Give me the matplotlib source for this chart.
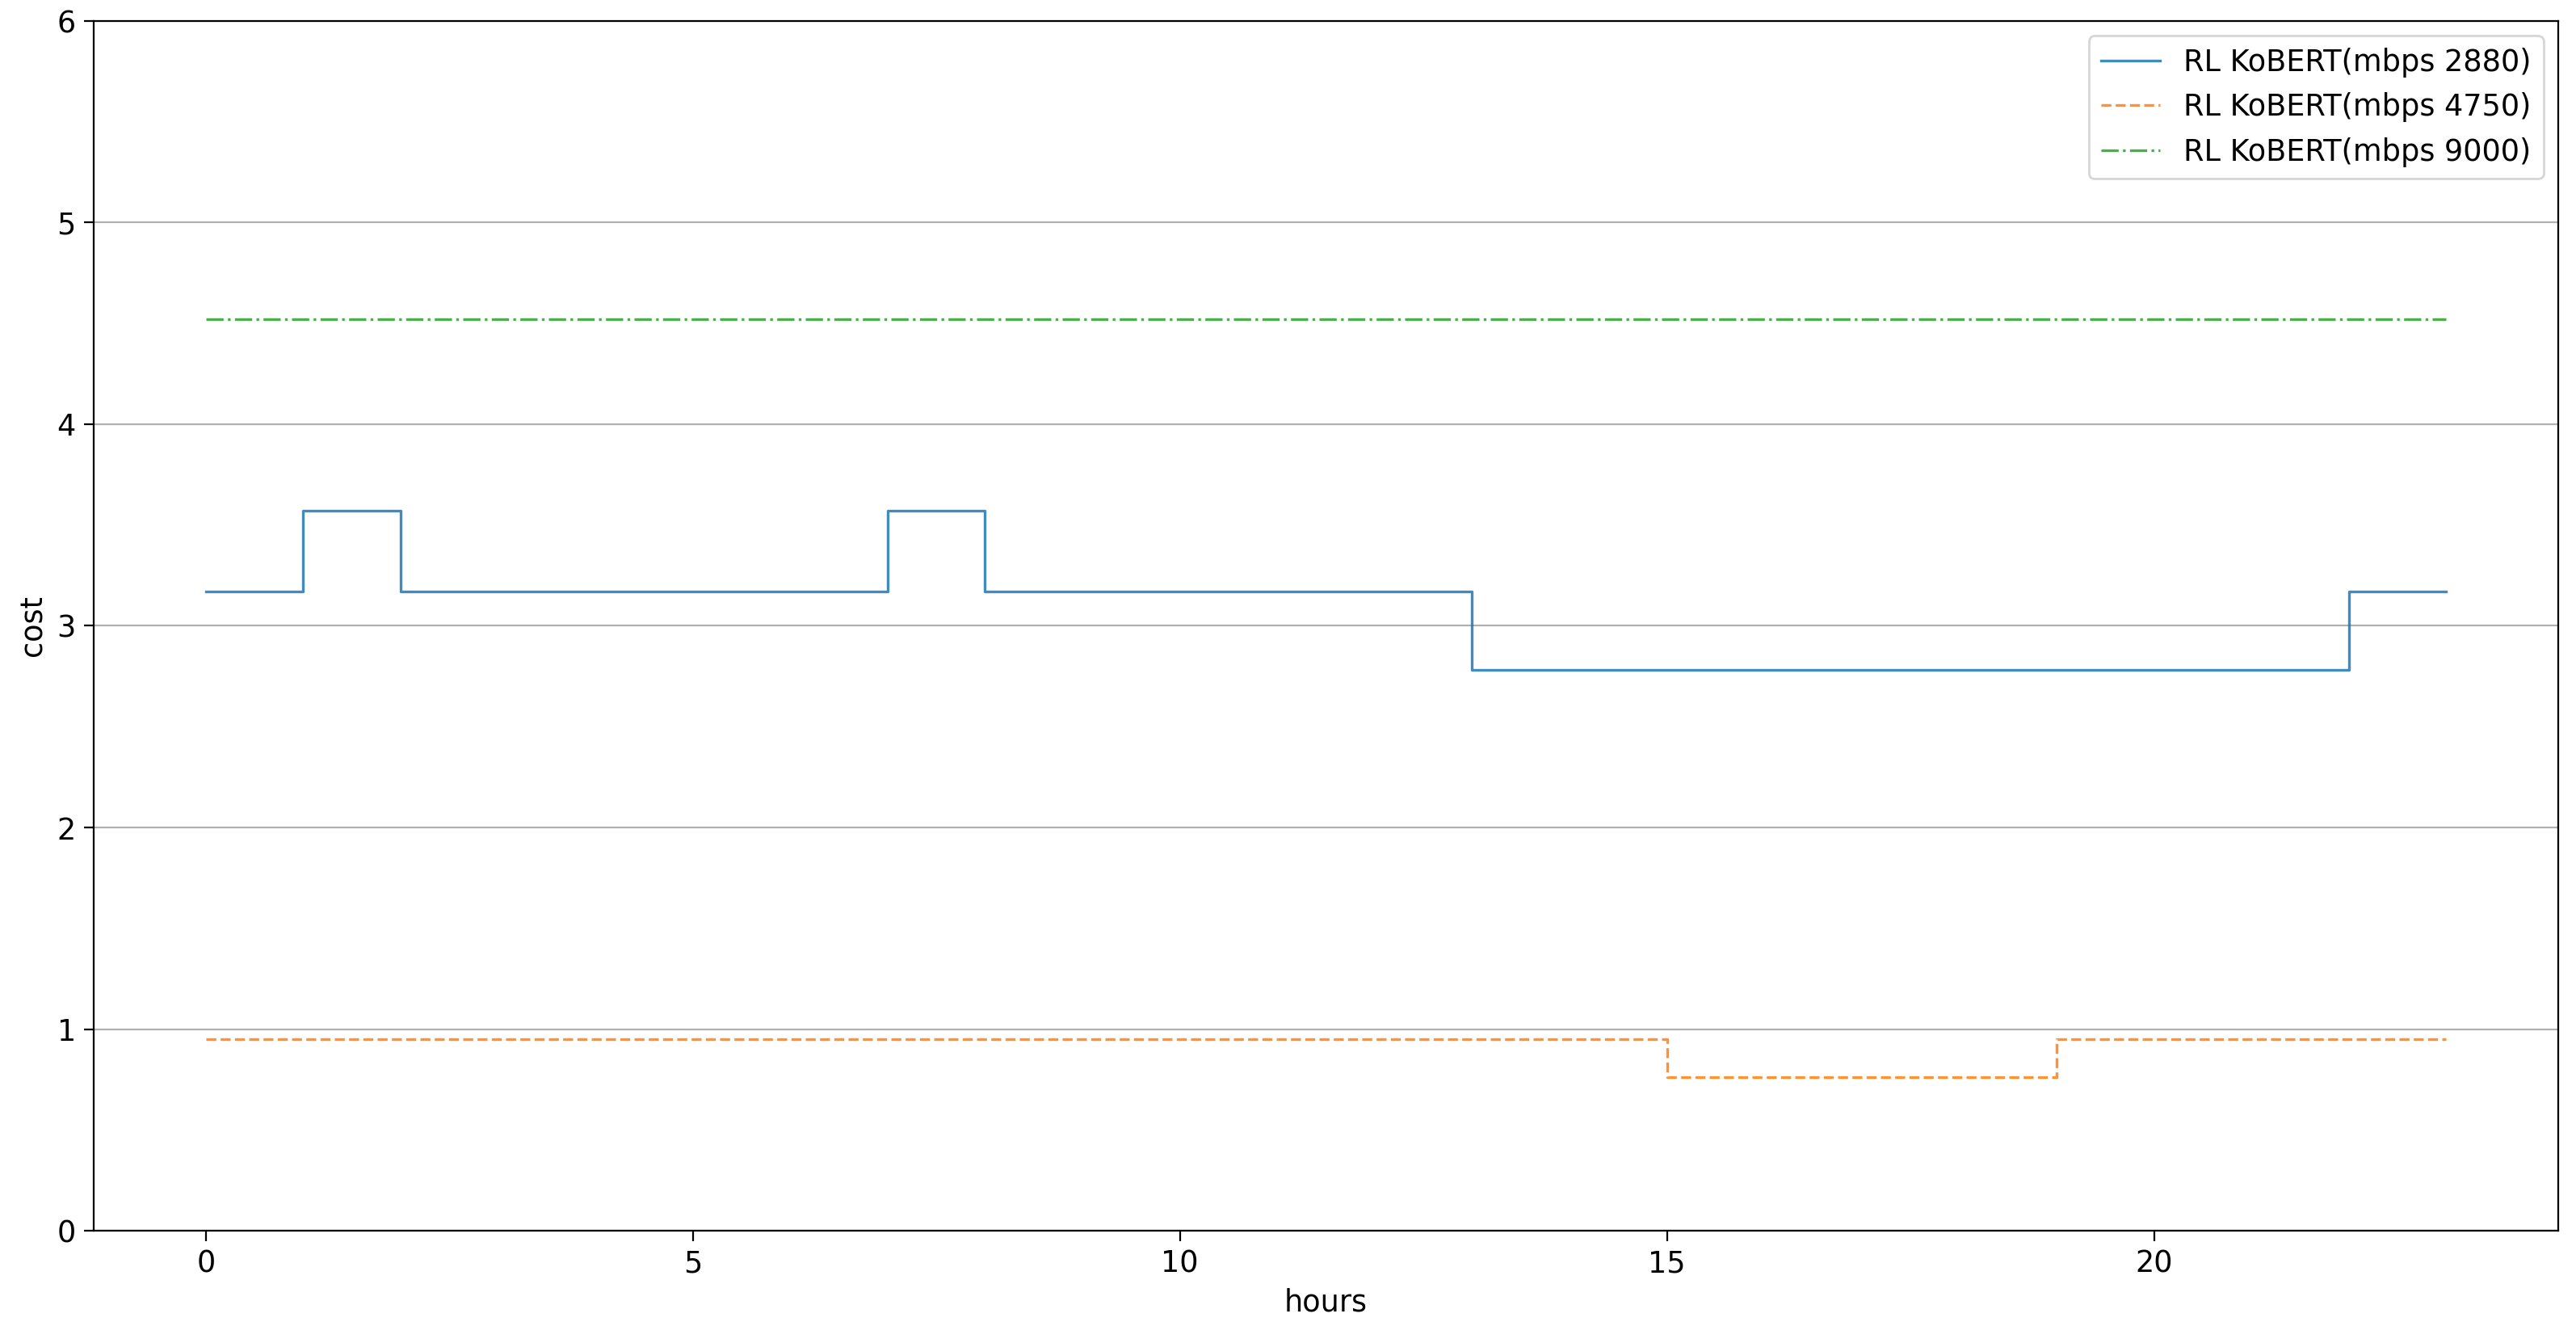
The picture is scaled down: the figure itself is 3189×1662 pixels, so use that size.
import matplotlib
matplotlib.use("Agg")
import matplotlib.pyplot as plt
import numpy as np

# hourly cost for each bitrate
hours = np.arange(24)

cost_2880 = [3.17, 3.57, 3.17, 3.17, 3.17, 3.17, 3.17, 3.57, 3.17, 3.17, 3.17, 3.17,
             3.17, 2.78, 2.78, 2.78, 2.78, 2.78, 2.78, 2.78, 2.78, 2.78, 3.17, 3.17]
cost_4750 = [0.95, 0.95, 0.95, 0.95, 0.95, 0.95, 0.95, 0.95, 0.95, 0.95, 0.95, 0.95,
             0.95, 0.95, 0.95, 0.76, 0.76, 0.76, 0.76, 0.95, 0.95, 0.95, 0.95, 0.95]
cost_9000 = [4.52] * 24

labels = ["RL KoBERT(mbps 2880)", "RL KoBERT(mbps 4750)", "RL KoBERT(mbps 9000)"]

plt.rcParams["font.size"] = 13.2
plt.rcParams["xtick.major.size"] = 4.5
plt.rcParams["ytick.major.size"] = 4.5

fig = plt.figure(figsize=(15.945, 8.31), dpi=200)
ax = fig.add_axes([0.0364, 0.0836, 0.9567, 0.9008])

lw = 1.2
ax.step(hours, cost_2880, where="post", label=labels[0], color="tab:blue", lw=lw, alpha=0.85)
ax.step(hours, cost_4750, where="post", label=labels[1], color="tab:orange", lw=lw, alpha=0.85, linestyle="--")
ax.step(hours, cost_9000, where="post", label=labels[2], color="tab:green", lw=lw, alpha=0.85, linestyle="-.")

ax.set_ylim(0, 6)
ax.set_xlabel("hours")
ax.set_ylabel("cost")
ax.grid(axis="y")
ax.legend(loc="upper right")

fig.savefig("out.png", dpi=200)
